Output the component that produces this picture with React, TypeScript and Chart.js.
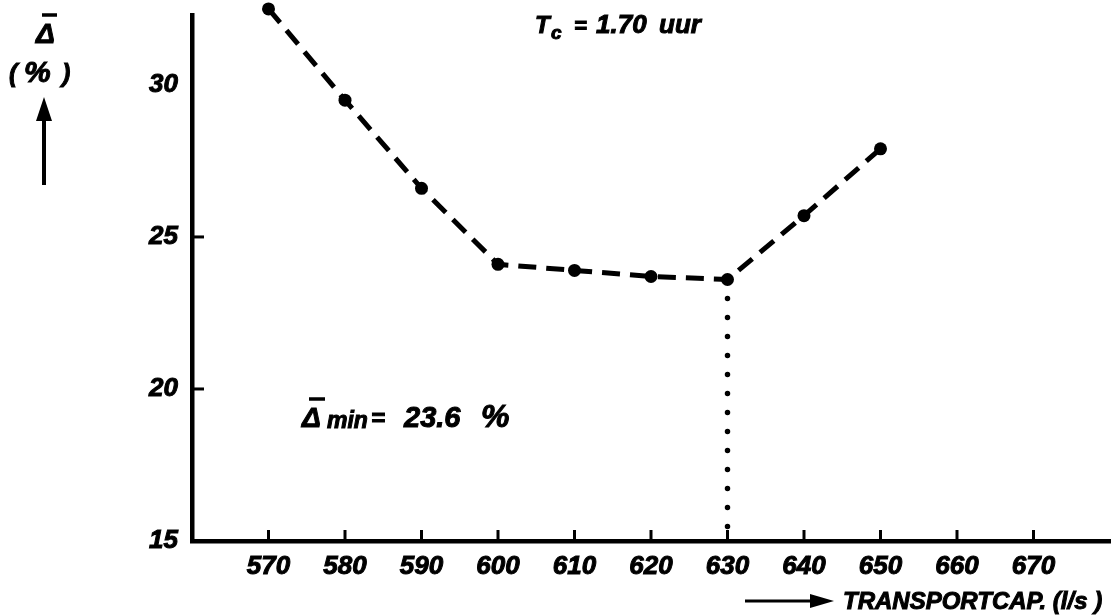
import React, { useEffect, useRef } from "react";
import { Chart, registerables } from "chart.js";

Chart.register(...registerables);

// Transport capacity (l/s) against mean deviation (%)
const capacities = [570, 580, 590, 600, 610, 620, 630, 640, 650];
const deviations = [32.5, 29.5, 26.6, 24.1, 23.9, 23.7, 23.6, 25.7, 27.9];

// Optimum marked by a dotted drop line
const minCapacity = 630;
const minDeviation = 23.6;

// Axis ranges and tick marks
const xMin = 560;
const xMax = 680;
const xLabelValues = [570, 580, 590, 600, 610, 620, 630, 640, 650, 660, 670];
const yMin = 15;
const yMax = 32.3;
const yMarkValues = [20, 25];

const FONT = "'Liberation Sans', Arial, sans-serif";
const INK = "#000";

// Heavy lettering: fill plus a thin outline
function ink(ctx: CanvasRenderingContext2D, text: string, x: number, y: number, size: number) {
  ctx.font = `italic bold ${size}px ${FONT}`;
  ctx.fillText(text, x, y);
  ctx.lineWidth = 1;
  ctx.strokeText(text, x, y);
}

const annotations = {
  id: "annotations",
  afterDraw(chart: any) {
    const { ctx, chartArea, scales } = chart;
    const xs = scales.x;
    const ys = scales.y;
    ctx.save();
    ctx.strokeStyle = INK;
    ctx.fillStyle = INK;
    ctx.lineCap = "butt";

    // inward tick marks on the x axis
    ctx.lineWidth = 3;
    for (const v of xLabelValues) {
      const px = xs.getPixelForValue(v);
      ctx.beginPath();
      ctx.moveTo(px, chartArea.bottom);
      ctx.lineTo(px, chartArea.bottom - 11);
      ctx.stroke();
    }
    // inward tick marks on the y axis
    for (const v of yMarkValues) {
      const py = ys.getPixelForValue(v);
      ctx.beginPath();
      ctx.moveTo(chartArea.left, py);
      ctx.lineTo(chartArea.left + 12, py);
      ctx.stroke();
    }

    ctx.textBaseline = "alphabetic";
    ctx.textAlign = "left";

    // T_c = 1.70 uur
    ink(ctx, "T", 535, 33, 24);
    ink(ctx, "c", 551, 39, 19);
    ink(ctx, "=", 574, 33, 22);
    ink(ctx, "1.70", 596, 33, 26);
    ink(ctx, "uur", 659, 33, 26);

    // Δ̄min = 23.6 %
    ink(ctx, "\u0394", 302, 427, 28);
    ctx.lineWidth = 3.5;
    ctx.beginPath();
    ctx.moveTo(309, 399);
    ctx.lineTo(325, 399);
    ctx.stroke();
    ink(ctx, "min", 327, 428, 23);
    ink(ctx, "=", 371, 426, 24);
    ink(ctx, "23.6", 404, 427, 29);
    ink(ctx, "%", 481, 427, 32);

    // y axis title: Δ̄ (%) with upward arrow
    ink(ctx, "\u0394", 36, 43, 28);
    ctx.lineWidth = 3.5;
    ctx.beginPath();
    ctx.moveTo(42, 15);
    ctx.lineTo(57, 15);
    ctx.stroke();
    ink(ctx, "(", 9, 82, 25);
    ink(ctx, "%", 24, 82, 30);
    ink(ctx, ")", 62, 82, 25);
    ctx.lineWidth = 4;
    ctx.beginPath();
    ctx.moveTo(44, 185);
    ctx.lineTo(44, 115);
    ctx.stroke();
    ctx.beginPath();
    ctx.moveTo(44, 97);
    ctx.lineTo(36, 121);
    ctx.lineTo(52, 121);
    ctx.closePath();
    ctx.fill();

    // x axis title with rightward arrow
    ctx.lineWidth = 3;
    ctx.beginPath();
    ctx.moveTo(745, 601);
    ctx.lineTo(815, 601);
    ctx.stroke();
    ctx.beginPath();
    ctx.moveTo(834, 601);
    ctx.lineTo(810, 594);
    ctx.lineTo(810, 608);
    ctx.closePath();
    ctx.fill();
    ink(ctx, "TRANSPORTCAP. (l/s )", 843, 609, 24);

    ctx.restore();
  },
};

export default function App() {
  const canvasRef = useRef<HTMLCanvasElement | null>(null);

  useEffect(() => {
    if (!canvasRef.current) return;
    const tickFont = { family: FONT, size: 26, weight: "bold" as const, style: "italic" as const };
    const chart = new Chart(canvasRef.current, {
      type: "line",
      data: {
        datasets: [
          {
            data: [
              { x: minCapacity, y: minDeviation },
              { x: minCapacity, y: yMin },
            ],
            borderColor: INK,
            borderWidth: 5.5,
            borderDash: [0, 19],
            borderDashOffset: -19,
            borderCapStyle: "round",
            pointRadius: 0,
            clip: false,
            order: 2,
          },
          {
            data: capacities.map((c, i) => ({ x: c, y: deviations[i] })),
            borderColor: INK,
            borderWidth: 5,
            borderDash: [18, 10],
            backgroundColor: INK,
            pointBackgroundColor: INK,
            pointBorderColor: INK,
            pointBorderWidth: 0,
            pointRadius: 6.5,
            tension: 0,
            clip: false,
            order: 1,
          },
        ],
      },
      options: {
        animation: false,
        responsive: true,
        maintainAspectRatio: false,
        layout: { padding: { top: 15, right: 8, left: 0, bottom: 0 } },
        plugins: { legend: { display: false }, tooltip: { enabled: false } },
        scales: {
          x: {
            type: "linear",
            min: xMin,
            max: xMax,
            grid: { display: false, drawTicks: false },
            border: { display: true, color: INK, width: 4.5 },
            ticks: {
              stepSize: 10,
              color: INK,
              font: tickFont,
              textStrokeColor: INK,
              textStrokeWidth: 1,
              padding: 10,
              maxRotation: 0,
              autoSkip: false,
              callback: (v: any) => (xLabelValues.includes(Number(v)) ? String(v) : ""),
            },
            afterFit: (s: any) => {
              s.height = 74;
              s.paddingLeft = 0;
              s.paddingRight = 0;
            },
          },
          y: {
            type: "linear",
            min: yMin,
            max: yMax,
            grid: { display: false, drawTicks: false },
            border: { display: true, color: INK, width: 4.5 },
            ticks: {
              stepSize: 5,
              includeBounds: false,
              color: INK,
              font: tickFont,
              textStrokeColor: INK,
              textStrokeWidth: 1,
              padding: 14,
            },
            afterFit: (s: any) => {
              s.width = 192;
              s.paddingTop = 0;
              s.paddingBottom = 0;
            },
          },
        },
      },
      plugins: [annotations],
    });
    return () => chart.destroy();
  }, []);

  return (
    <div style={{ position: "fixed", left: 0, top: 0, width: 1118, height: 615, background: "#fff" }}>
      <canvas ref={canvasRef} />
    </div>
  );
}
